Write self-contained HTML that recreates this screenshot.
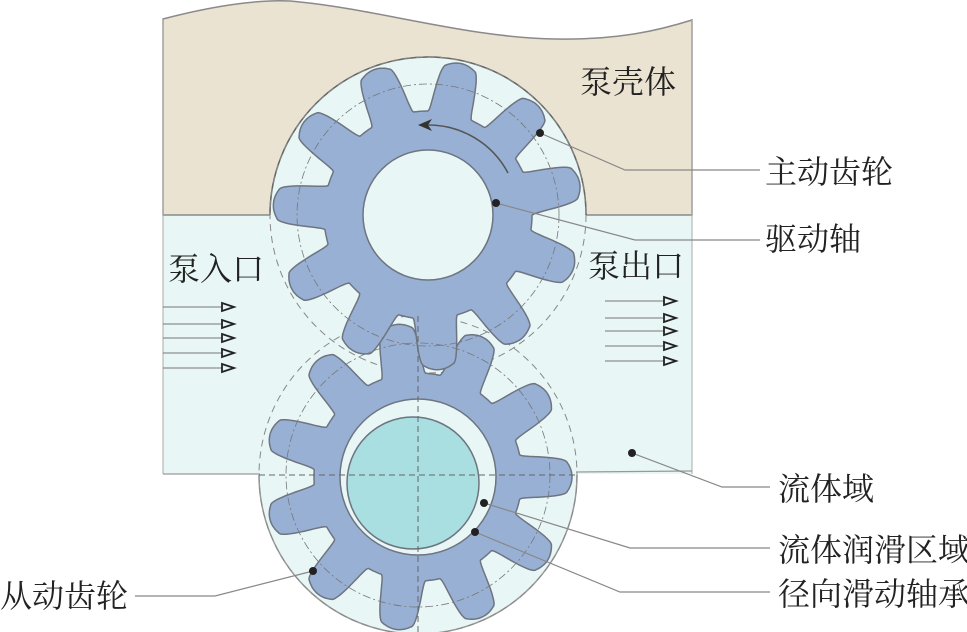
<!DOCTYPE html>
<html><head><meta charset="utf-8"><style>
body{margin:0;background:#fff;}
svg{display:block;}
text{font-family:"Liberation Serif","Noto Serif CJK SC","Noto Sans CJK SC",serif;font-size:32px;fill:#222;}
</style></head><body>
<svg id="s" width="967" height="632" viewBox="0 0 967 632" xmlns="http://www.w3.org/2000/svg">
<rect x="163" y="214" width="529" height="260" fill="#e8f6f6"/>
<path d="M163,19 C220,4 270,-2 300,2 C380,10 470,38 556,39 C620,40 660,30 692,20 L692,215 L586,215 A158,158 0 0 0 270,215 L163,215 Z" fill="#ebe3d1" stroke="#8a8a8a" stroke-width="1.5"/>
<line x1="163" y1="19" x2="163" y2="474" stroke="#aaa" stroke-width="1"/>
<line x1="692" y1="20" x2="692" y2="474" stroke="#aaa" stroke-width="1"/>
<circle cx="418" cy="475" r="159" fill="#e8f6f6"/>
<path d="M259,475 A159,159 0 0 0 577,475" fill="none" stroke="#999" stroke-width="1.5"/>
<circle cx="428" cy="215" r="158" fill="#e8f6f6"/>
<path d="M270,215 A158,158 0 0 1 586,215" fill="none" stroke="#666" stroke-width="1.5"/>
<circle cx="428" cy="215" r="158" fill="none" stroke="#888" stroke-width="1" stroke-dasharray="7,5"/>
<circle cx="418" cy="475" r="159" fill="none" stroke="#888" stroke-width="1" stroke-dasharray="7,5"/>
<line x1="163" y1="474" x2="260" y2="474" stroke="#999" stroke-width="1.2"/>
<line x1="576" y1="472" x2="692" y2="471" stroke="#999" stroke-width="1.2"/>
<g id="gears"></g>
<circle cx="428" cy="215" r="65" fill="#e8f6f6" stroke="#6e7480" stroke-width="1.5"/>
<circle cx="418" cy="477" r="78" fill="#e8f6f6" stroke="#6e7480" stroke-width="1.5"/>
<circle cx="413" cy="483" r="66" fill="#a9dfe0" stroke="#6e7480" stroke-width="1.5"/>
<circle cx="428" cy="215" r="131" fill="none" stroke="#777" stroke-width="0.8" stroke-dasharray="8,3,2,3"/>
<circle cx="418" cy="475" r="132" fill="none" stroke="#777" stroke-width="0.8" stroke-dasharray="8,3,2,3"/>
<line x1="418" y1="316" x2="418" y2="632" stroke="#666" stroke-width="1" stroke-dasharray="6,4"/>
<line x1="259" y1="475" x2="577" y2="475" stroke="#666" stroke-width="1" stroke-dasharray="6,4"/>
<path d="M508,173 A90,90 0 0 0 428,125" fill="none" stroke="#555" stroke-width="1.5"/>
<path d="M418,125 L432,119 L428,125 L432,131 Z" fill="#333"/>
<g stroke="#777" stroke-width="1" fill="none">
<line x1="163" y1="307" x2="222" y2="307"/><line x1="163" y1="324" x2="222" y2="324"/><line x1="163" y1="338" x2="222" y2="338"/><line x1="163" y1="353" x2="222" y2="353"/><line x1="163" y1="368" x2="222" y2="368"/>
<line x1="605" y1="301" x2="664" y2="301"/><line x1="605" y1="318" x2="664" y2="318"/><line x1="605" y1="331" x2="664" y2="331"/><line x1="605" y1="346" x2="664" y2="346"/><line x1="605" y1="361" x2="664" y2="361"/>
</g>
<g stroke="#222" stroke-width="1.8" fill="none">
<path d="M222,303 L234,307 L222,311 Z"/><path d="M222,320 L234,324 L222,328 Z"/><path d="M222,334 L234,338 L222,342 Z"/><path d="M222,349 L234,353 L222,357 Z"/><path d="M222,364 L234,368 L222,372 Z"/>
<path d="M664,297 L676,301 L664,305 Z"/><path d="M664,314 L676,318 L664,322 Z"/><path d="M664,327 L676,331 L664,335 Z"/><path d="M664,342 L676,346 L664,350 Z"/><path d="M664,357 L676,361 L664,365 Z"/>
</g>
<g stroke="#888" stroke-width="1.2" fill="none">
<polyline points="540,133 625,170 760,170"/>
<polyline points="496,203 635,240 760,240"/>
<polyline points="632,453 722,487 770,487"/>
<polyline points="484,503 630,548 770,548"/>
<polyline points="475,532 620,592 770,592"/>
<polyline points="313,571 215,596 135,596"/>
</g>
<g fill="#222">
<circle cx="540" cy="133" r="4"/><circle cx="496" cy="203" r="4"/><circle cx="632" cy="453" r="4"/>
<circle cx="484" cy="503" r="4"/><circle cx="475" cy="532" r="4"/><circle cx="313" cy="571" r="4"/>
</g>
<text x="580" y="93">泵壳体</text>
<text x="765" y="183">主动齿轮</text>
<text x="765" y="250">驱动轴</text>
<text x="168" y="280">泵入口</text>
<text x="588" y="277">泵出口</text>
<text x="778" y="500">流体域</text>
<text x="778" y="561">流体润滑区域</text>
<text x="778" y="605">径向滑动轴承</text>
<text x="0" y="607">从动齿轮</text>
</svg>
<script>
function gear(cx,cy,rt,rr,n,off){
  var p=360/n,tip=5.5,base=12.5,pts=[];
  for(var a=0;a<360;a+=0.5){
    var d=((a-off)%p+p)%p; if(d>p/2)d-=p; d=Math.abs(d);
    var r;
    if(d<=tip){r=rt-(d/tip)*(d/tip)*4;}
    else if(d>=base){r=rr;}
    else{var t=(d-tip)/(base-tip);r=(rt-4)+(rr-rt+4)*(t*t*(3-2*t));}
    var th=a*Math.PI/180;
    pts.push((cx+r*Math.cos(th)).toFixed(1)+","+(cy+r*Math.sin(th)).toFixed(1));
  }
  return "M"+pts.join(" L")+"Z";
}
var g=document.getElementById("gears");
var ns="http://www.w3.org/2000/svg";
[[418,477,154,104,11,0],[428,215,155,104,11,86]].forEach(function(a){
  var e=document.createElementNS(ns,"path");
  e.setAttribute("d",gear.apply(null,a));
  e.setAttribute("fill","#98b0d4");e.setAttribute("stroke","#6e7480");e.setAttribute("stroke-width","1.5");
  g.appendChild(e);
});
</script>
</body></html>
